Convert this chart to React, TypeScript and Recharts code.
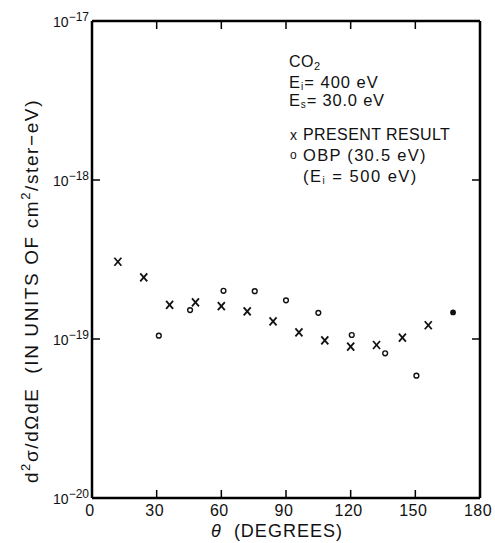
import { ScatterChart, Scatter, XAxis, YAxis } from "recharts"

// CO2, Ei = 400 eV, Es = 30.0 eV
const THETA_PRESENT = [12, 24, 36, 48, 60, 72, 84, 96, 108, 120, 132, 144, 156]
const SIGMA_PRESENT = [3.06e-19, 2.44e-19, 1.64e-19, 1.7e-19, 1.61e-19, 1.49e-19, 1.29e-19, 1.1e-19, 9.8e-20, 8.95e-20, 9.17e-20, 1.02e-19, 1.22e-19]

// OBP (30.5 eV), Ei = 500 eV
const THETA_OBP = [31, 45.5, 61, 75.5, 90, 105, 120.5, 136, 150.5]
const SIGMA_OBP = [1.05e-19, 1.52e-19, 2.01e-19, 2.0e-19, 1.75e-19, 1.46e-19, 1.06e-19, 8.13e-20, 5.88e-20]

const THETA_FILLED = [167.5]
const SIGMA_FILLED = [1.47e-19]

const X_TICKS = [0, 30, 60, 90, 120, 150, 180]
const Y_TICKS = [1e-20, 1e-19, 1e-18, 1e-17]
const Y_TICK_EXP = ["-20", "-19", "-18", "-17"]

const FONT = "'Liberation Sans', Arial, sans-serif"

const toPoints = (xs: number[], ys: number[]) => xs.map((theta, i) => ({ theta, sigma: ys[i] }))

const present = toPoints(THETA_PRESENT, SIGMA_PRESENT)
const obp = toPoints(THETA_OBP, SIGMA_OBP)
const filled = toPoints(THETA_FILLED, SIGMA_FILLED)

const Cross = ({ cx, cy }: any) => (
  <g stroke="#111" strokeWidth={1.8}>
    <line x1={cx - 3.5} y1={cy - 4} x2={cx + 3.5} y2={cy + 4} />
    <line x1={cx - 3.5} y1={cy + 4} x2={cx + 3.5} y2={cy - 4} />
  </g>
)
const OpenDot = ({ cx, cy }: any) => <circle cx={cx} cy={cy} r={2.4} fill="#fff" stroke="#111" strokeWidth={1.4} />
const FilledDot = ({ cx, cy }: any) => <circle cx={cx} cy={cy} r={2.9} fill="#111" />
const Nothing = () => null

const inner = (v: number, lo: number, hi: number) => v > lo && v < hi

const BottomTick = ({ x, y, payload }: any) => (
  <g>
    {inner(payload.value, 0, 180) && <line x1={x} y1={y} x2={x} y2={y - 8} stroke="#000" strokeWidth={1.5} />}
    <text x={x - 2} y={y + 18} textAnchor="middle" fontSize={16} letterSpacing={0.5} fontFamily={FONT} fill="#111">
      {payload.value}
    </text>
  </g>
)
const TopTick = ({ x, y, payload }: any) =>
  inner(payload.value, 0, 180) ? <line x1={x} y1={y} x2={x} y2={y + 8} stroke="#000" strokeWidth={1.5} /> : <g />

const LeftTick = ({ x, y, payload }: any) => {
  const i = Y_TICKS.indexOf(payload.value)
  return (
    <g>
      {inner(payload.value, 1e-20, 1e-17) && <line x1={x} y1={y} x2={x + 8} y2={y} stroke="#000" strokeWidth={1.5} />}
      <text x={x - 3} y={y + 6} textAnchor="end" fontFamily={FONT} fill="#111">
        <tspan fontSize={14}>10</tspan>
        <tspan fontSize={12} dy={-6}>{"\u2212" + Y_TICK_EXP[i].slice(1)}</tspan>
      </text>
    </g>
  )
}
const RightTick = ({ x, y, payload }: any) =>
  inner(payload.value, 1e-20, 1e-17) ? <line x1={x} y1={y} x2={x - 8} y2={y} stroke="#000" strokeWidth={1.5} /> : <g />

const axisLine = { stroke: "#000", strokeWidth: 2.5 }

export default function App() {
  return (
    <div style={{ position: "absolute", left: 0, top: 0, width: 495, height: 543, background: "#fff" }}>
      <ScatterChart width={495} height={543} margin={{ top: 0, right: 0, bottom: 0, left: 0 }}>
        <XAxis
          xAxisId="b"
          dataKey="theta"
          type="number"
          domain={[0, 180]}
          ticks={X_TICKS}
          height={45}
          tickSize={0}
          tickMargin={0}
          tickLine={false}
          axisLine={axisLine}
          tick={<BottomTick />}
          allowDataOverflow
        />
        <XAxis
          xAxisId="t"
          orientation="top"
          dataKey="theta"
          type="number"
          domain={[0, 180]}
          ticks={X_TICKS}
          height={21}
          tickSize={0}
          tickMargin={0}
          tickLine={false}
          axisLine={axisLine}
          tick={<TopTick />}
          allowDataOverflow
        />
        <YAxis
          yAxisId="l"
          dataKey="sigma"
          type="number"
          scale="log"
          domain={[1e-20, 1e-17]}
          ticks={Y_TICKS}
          width={92}
          tickSize={0}
          tickMargin={0}
          tickLine={false}
          axisLine={axisLine}
          tick={<LeftTick />}
          allowDataOverflow
        />
        <YAxis
          yAxisId="r"
          orientation="right"
          dataKey="sigma"
          type="number"
          scale="log"
          domain={[1e-20, 1e-17]}
          ticks={Y_TICKS}
          width={15}
          tickSize={0}
          tickMargin={0}
          tickLine={false}
          axisLine={axisLine}
          tick={<RightTick />}
          allowDataOverflow
        />
        <Scatter xAxisId="t" yAxisId="r" data={present} shape={<Nothing />} isAnimationActive={false} />
        <Scatter xAxisId="b" yAxisId="l" name="PRESENT RESULT" data={present} shape={<Cross />} isAnimationActive={false} />
        <Scatter xAxisId="b" yAxisId="l" name="OBP (30.5 eV)" data={obp} shape={<OpenDot />} isAnimationActive={false} />
        <Scatter xAxisId="b" yAxisId="l" data={filled} shape={<FilledDot />} isAnimationActive={false} />
      </ScatterChart>
      <svg width={495} height={543} style={{ position: "absolute", left: 0, top: 0, pointerEvents: "none" }} fontFamily={FONT} fill="#111">
        <text x={289} y={67} fontSize={16} letterSpacing={0.5}>
          CO<tspan fontSize={11} dy={3}>2</tspan>
        </text>
        <text x={289} y={88} fontSize={16.5} letterSpacing={1}>
          E<tspan fontSize={10} dy={2}>i</tspan>
          <tspan dy={-2}>= 400 eV</tspan>
        </text>
        <text x={289} y={106} fontSize={16.5} letterSpacing={0.8}>
          E<tspan fontSize={10} dy={2}>s</tspan>
          <tspan dy={-2}>= 30.0 eV</tspan>
        </text>
        <text x={290} y={140} fontSize={14}>x</text>
        <text x={303} y={140} fontSize={16} letterSpacing={0.4}>PRESENT RESULT</text>
        <text x={290} y={159} fontSize={12}>o</text>
        <text x={303} y={161} fontSize={16.5} letterSpacing={1.3}>OBP (30.5 eV)</text>
        <text x={303} y={182} fontSize={16.5} letterSpacing={1.5}>
          (E<tspan fontSize={10} dy={2}>i</tspan>
          <tspan dy={-2}> = 500 eV)</tspan>
        </text>
        <text x={277} y={537} fontSize={18} letterSpacing={1} textAnchor="middle">
          <tspan fontStyle="italic">θ</tspan>{"\u00a0\u00a0(DEGREES)"}
        </text>
        <text x={38} y={291} fontSize={19} letterSpacing={1.6} textAnchor="middle" transform="rotate(-90, 38, 291)">
          d<tspan fontSize={13} dy={-8}>2</tspan>
          <tspan dy={8}>{"σ/dΩdE\u00a0\u00a0(IN UNITS OF cm"}</tspan>
          <tspan fontSize={13} dy={-8}>2</tspan>
          <tspan dy={8}>/ster−eV)</tspan>
        </text>
      </svg>
    </div>
  )
}
